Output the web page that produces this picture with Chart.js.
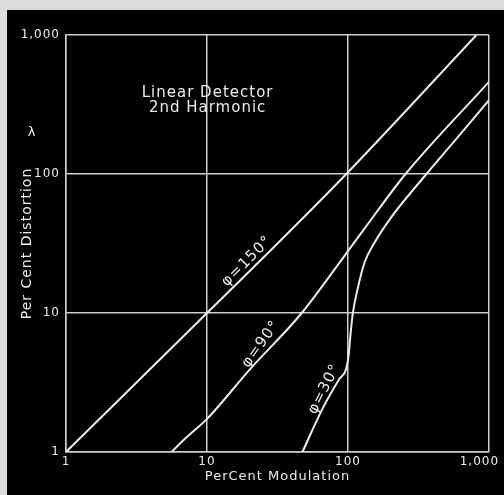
<!DOCTYPE html>
<html>
<head>
<meta charset="utf-8">
<script src="https://cdn.jsdelivr.net/npm/chart.js@4.4.1/dist/chart.umd.min.js"></script>
<style>
body { margin: 0; background: #dcdcdc; }
#wrap { position: absolute; left: 7px; top: 10px; width: 497px; height: 485px; background: #000; }
</style>
</head>
<body>
<div id="wrap"><canvas id="distChart"></canvas></div>
<script>
const axisTicks = [1, 10, 100, 1000];

// phi = 150 deg
const mod150 = [1, 10, 30, 100, 815];
const dist150 = [1, 10, 30, 103, 1000];

// phi = 90 deg
const mod90 = [5.6, 7, 10, 20, 47, 95, 132, 256, 1000];
const dist90 = [1, 1.25, 1.73, 3.9, 10, 26, 41, 100, 460];

// phi = 30 deg
const mod30 = [47.5, 66, 87, 97, 101, 104, 108, 117, 131, 154, 200, 360, 603, 1000];
const dist30 = [1, 2.05, 3.36, 3.96, 4.94, 6.88, 9.8, 14.9, 23.1, 32, 48, 100, 185, 340];

const curveNames = ['φ=150°', 'φ=90°', 'φ=30°'];

const ink = '#ececec';
const gridInk = '#cfcfcf';
const family = '"DejaVu Sans", sans-serif';

function pts(xs, ys) {
    return xs.map((x, i) => ({ x: x, y: ys[i] }));
}

// the lettering on the original is widely spaced
const spacing = {
    id: 'spacing',
    beforeDraw(chart) {
        chart.ctx.letterSpacing = '1px';
    }
};

// text drawn on the plot: captions and curve labels
const notes = {
    id: 'notes',
    afterDraw(chart) {
        const ctx = chart.ctx;
        const sx = chart.scales.x, sy = chart.scales.y;
        ctx.save();
        ctx.letterSpacing = '1px';
        ctx.fillStyle = ink;
        ctx.textAlign = 'center';
        ctx.textBaseline = 'middle';
        ctx.font = '15px ' + family;
        ctx.fillText('Linear Detector', sx.getPixelForValue(10.1), sy.getPixelForValue(383));
        ctx.fillText('2nd Harmonic', sx.getPixelForValue(10.1), sy.getPixelForValue(299));
        ctx.font = '13px ' + family;
        ctx.fillText('λ', chart.chartArea.left - 34, sy.getPixelForValue(200));

        const spots = [[19.2, 23.5, -45], [24.1, 5.96, -54], [67.9, 2.83, -63]];
        ctx.font = '15px ' + family;
        spots.forEach((s, i) => {
            ctx.save();
            ctx.translate(sx.getPixelForValue(s[0]), sy.getPixelForValue(s[1]));
            ctx.rotate(s[2] * Math.PI / 180);
            ctx.fillText(curveNames[i], 0, 0);
            ctx.restore();
        });
        ctx.restore();
    }
};

const lineStyle = {
    borderColor: ink,
    borderWidth: 2,
    pointRadius: 0,
    cubicInterpolationMode: 'monotone',
    fill: false
};

const ctx = document.getElementById('distChart').getContext('2d');
const distChart = new Chart(ctx, {
    type: 'line',
    data: {
        datasets: [
            Object.assign({ label: curveNames[0], data: pts(mod150, dist150) }, lineStyle),
            Object.assign({ label: curveNames[1], data: pts(mod90, dist90) }, lineStyle),
            Object.assign({ label: curveNames[2], data: pts(mod30, dist30) }, lineStyle)
        ]
    },
    options: {
        responsive: true,
        maintainAspectRatio: false,
        animation: false,
        layout: { padding: { left: 8, right: 15, top: 25, bottom: 7 } },
        plugins: {
            legend: { display: false },
            tooltip: { enabled: false }
        },
        scales: {
            x: {
                type: 'logarithmic',
                min: 1,
                max: 1000,
                afterBuildTicks: s => { s.ticks = axisTicks.map(v => ({ value: v })); },
                afterFit: s => { s.height = 36; s.paddingLeft = 0; s.paddingRight = 0; },
                grid: { color: gridInk, lineWidth: 1.5, drawTicks: false },
                border: { color: gridInk, width: 1.5 },
                ticks: {
                    color: ink,
                    padding: 3,
                    maxRotation: 0,
                    font: { family: family, size: 12 },
                    // last label sits left of the corner on the original
                    callback: v => v === 1000 ? '1,000\u00a0\u00a0\u00a0\u00a0' : v.toLocaleString('en-US')
                },
                title: {
                    display: true,
                    text: 'PerCent Modulation',
                    color: ink,
                    padding: { top: 0, bottom: 4 },
                    font: { family: family, size: 13 }
                }
            },
            y: {
                type: 'logarithmic',
                min: 1,
                max: 1000,
                afterBuildTicks: s => { s.ticks = axisTicks.map(v => ({ value: v })); },
                afterFit: s => { s.width = 51; s.paddingTop = 0; s.paddingBottom = 0; },
                grid: { color: gridInk, lineWidth: 1.5, drawTicks: false },
                border: { color: gridInk, width: 1.5 },
                ticks: {
                    color: ink,
                    padding: 6,
                    font: { family: family, size: 12 },
                    callback: v => v.toLocaleString('en-US')
                },
                title: {
                    display: true,
                    text: 'Per Cent Distortion',
                    color: ink,
                    padding: 4,
                    font: { family: family, size: 14 }
                }
            }
        }
    },
    plugins: [spacing, notes]
});
</script>
</body>
</html>
